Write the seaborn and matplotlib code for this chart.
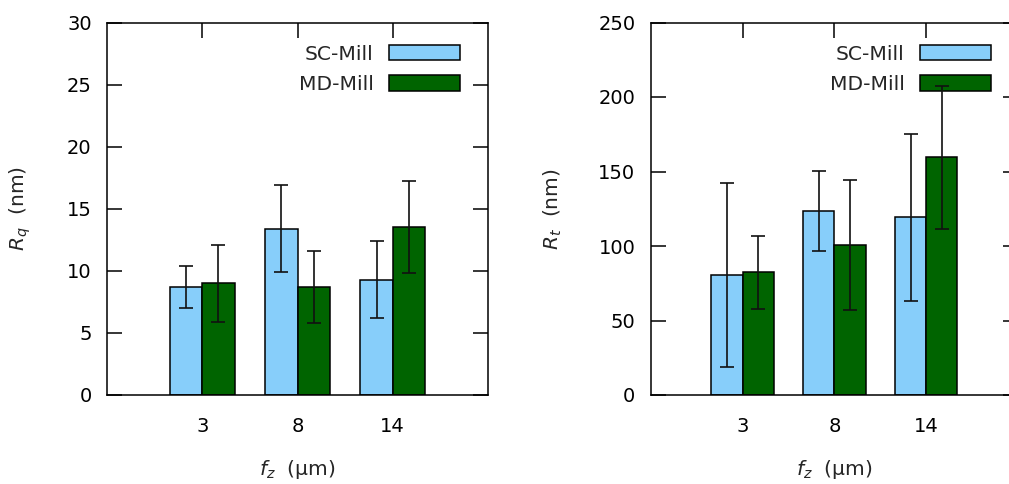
import numpy as np
import pandas as pd
import matplotlib
matplotlib.use('Agg')
import matplotlib.pyplot as plt
import seaborn as sns

# datos
avances = ['3', '8', '14']
series = ['SC-Mill', 'MD-Mill']
rq_sc = [8.7, 13.4, 9.3]
rq_md = [9.0, 8.7, 13.5]
rq_sc_err = [1.7, 3.5, 3.1]
rq_md_err = [3.1, 2.9, 3.7]
rt_sc = [80.5, 123.4, 119.2]
rt_md = [82.5, 100.6, 159.4]
rt_sc_err = [62.0, 27.0, 56.0]
rt_md_err = [24.5, 43.6, 48.0]
colores = ['#87CEFA', '#006400']

sns.set_style('ticks')
plt.rcParams['font.family'] = ['DejaVu Sans']
plt.rcParams['mathtext.fontset'] = 'dejavusans'
plt.rcParams['axes.linewidth'] = 1.1

TAM_TICK = 14
TAM = 14.6
fig = plt.figure(figsize=(10.09, 4.84), dpi=100)
W, H = 1009, 484
ax1 = fig.add_axes([107 / W, (H - 395) / H, (488 - 107) / W, (395 - 22.5) / H])
ax2 = fig.add_axes([650.7 / W, (H - 395) / H, (1018 - 650.7) / W, (395 - 22.5) / H])


def panel(ax, sc, md, sc_err, md_err, ymax, paso, ylabel, ylx):
    datos = pd.DataFrame({
        'fz': avances * 2,
        'serie': [series[0]] * 3 + [series[1]] * 3,
        'valor': sc + md,
    })
    sns.barplot(data=datos, x='fz', y='valor', hue='serie', order=avances,
                hue_order=series, palette=colores, saturation=1, width=0.68,
                edgecolor='black', linewidth=1.1, errorbar=None, legend=False, ax=ax)
    errores = {series[0]: sc_err, series[1]: md_err}
    for cont, nombre in zip(ax.containers, series):
        xs, ys, es = [], [], []
        for p in cont.patches:
            xc = p.get_x() + p.get_width() / 2
            xs.append(xc)
            ys.append(p.get_height())
            es.append(errores[nombre][int(round(xc))])
        ax.errorbar(xs, ys, yerr=es, fmt='none', ecolor='#111111', elinewidth=1.2,
                    capsize=5, capthick=1.2, zorder=6)
    ax.set_xlim(-1, 3)
    ax.set_ylim(0, ymax)
    ax.set_yticks(np.arange(0, ymax + 1, paso))
    ax.tick_params(direction='in', length=10.8, width=1.1, top=True, right=True,
                   labelsize=TAM_TICK, colors='black')
    ax.tick_params(axis='x', pad=16.0)
    ax.tick_params(axis='y', pad=11.0)
    for s in ax.spines.values():
        s.set_color('black')
        s.set_linewidth(1.1)
    ax.set_xlabel(r'$f_z$  (µm)', fontsize=TAM)
    ax.set_ylabel(ylabel, fontsize=TAM)
    ax.xaxis.set_label_coords(0.5, -0.168)
    ax.yaxis.set_label_coords(ylx, 0.5)
    leyenda = ax.legend(ax.containers, series, loc='upper right', bbox_to_anchor=(0.926, 0.94),
                        frameon=False, markerfirst=False, fontsize=TAM, handlelength=3.5,
                        handleheight=0.78, handletextpad=0.75, labelspacing=0.55,
                        borderpad=0, borderaxespad=0)
    leyenda.set_zorder(4)


panel(ax1, rq_sc, rq_md, rq_sc_err, rq_md_err, 30, 5, r'$R_q$  (nm)', -0.195)
panel(ax2, rt_sc, rt_md, rt_sc_err, rt_md_err, 250, 50, r'$R_t$  (nm)', -0.236)

fig.savefig('out.png', dpi=100)
